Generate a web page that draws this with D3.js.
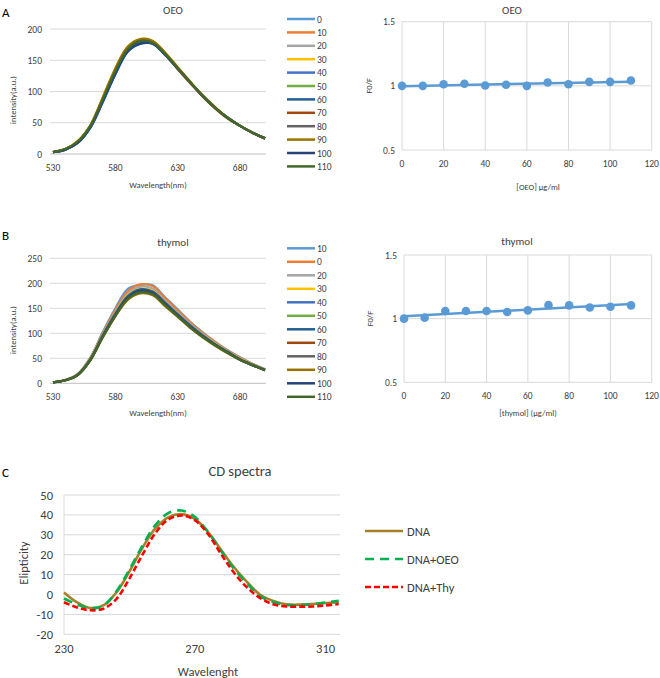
<!DOCTYPE html>
<html>
<head>
<meta charset="utf-8">
<script src="https://cdn.jsdelivr.net/npm/d3@7"></script>
<style>
  html, body { margin: 0; padding: 0; background: #fff; }
  svg { display: block; font-family: Carlito, Lato, "Open Sans", sans-serif; }
</style>
</head>
<body>
<svg id="chart" width="660" height="678"></svg>
<script>
// ---------------- DATA ----------------
const wavelengths = [530,540,550,560,570,580,590,600,610,620,630,640,650,660,670,680,690,700];

// Panel A: OEO fluorescence spectra (legend order)
const oeoLabels = ["0","10","20","30","40","50","60","70","80","90","100","110"];
const oeoSpectra = [
  [3,7,18,42,83,127,164,177,177,159,137,115,93,74,58,45,34,25],
  [3,8,20,46,90,135,170,183,180,161,136,113,92,73,57,45,34,25],
  [3,8,20,45,89,134,169,182,179,160,137,115,93,74,58,45,34,25],
  [3,8,21,46,91,137,172,184,181,162,139,116,94,75,58,45,34,25],
  [3,7,18,42,84,128,164,177,177,159,137,115,93,74,58,45,34,25],
  [3,8,20,45,88,133,168,181,178,160,137,115,93,74,58,45,34,25],
  [3,7,18,43,84,128,164,176,176,158,136,114,93,74,58,45,34,25],
  [3,8,20,45,88,134,169,182,179,160,136,114,92,73,57,45,34,25],
  [3,8,20,45,88,133,168,181,178,160,137,115,93,74,58,45,34,25],
  [3,8,21,46,91,137,172,184,181,162,139,116,94,75,58,45,34,25],
  [3,7,18,43,85,129,165,177,177,159,137,115,93,74,58,45,34,25],
  [3,8,20,45,88,133,168,181,178,160,137,115,93,74,58,45,34,25]
];

// Panel B: thymol fluorescence spectra (legend order)
const thyLabels = ["10","0","20","30","40","50","60","70","80","90","100","110"];
const thySpectra = [
  [2,7,19,52,103,150,189,197,196,172,148,123,102,83,66,52,39,28],
  [2,7,19,51,101,147,184,198,194,170,146,122,101,83,66,51,39,28],
  [2,6,18,50,99,143,179,193,189,165,142,119,99,81,65,50,38,28],
  [2,6,18,49,97,140,176,189,185,162,139,116,97,79,63,49,37,27],
  [2,6,18,48,96,139,174,187,183,161,138,115,96,78,63,48,37,27],
  [2,6,17,48,95,138,172,186,182,159,137,114,95,78,62,48,37,27],
  [2,6,18,48,96,139,174,188,183,161,138,116,96,78,63,48,37,27],
  [2,6,17,47,94,136,171,184,180,158,135,113,94,77,62,47,36,26],
  [2,6,17,47,93,135,169,183,178,156,134,112,93,76,61,47,36,26],
  [2,6,17,46,92,134,167,180,176,154,133,111,92,75,60,47,36,26],
  [2,6,17,47,94,136,171,185,180,158,135,113,94,77,62,47,36,26],
  [2,6,17,47,93,135,169,182,178,156,134,112,93,76,61,47,36,26]
];

const seriesColors = ["#5B9BD5","#ED7D31","#A5A5A5","#FFC000","#4472C4","#70AD47",
                      "#255E91","#9E480E","#636363","#997300","#264478","#43682B"];

// Stern-Volmer style plots
const concentrations = [0,10,20,30,40,50,60,70,80,90,100,110];
const oeoF0F = [1.000,1.000,1.013,1.016,1.003,1.008,1.000,1.026,1.013,1.031,1.031,1.042];
const thyF0F = [1.000,1.008,1.060,1.060,1.060,1.052,1.065,1.106,1.104,1.088,1.093,1.104];

// Panel C: CD spectra
const cdWavelengths = [230,234,238,242,246,250,254,258,262,266,270,274,278,282,286,290,294,298,302,306,310,314];
const cdDNA    = [1.0,-4.0,-6.8,-5.5,1.0,11.6,23.5,33.3,38.9,40.4,38.0,31.5,22.5,13.7,6.2,-0.1,-3.2,-4.9,-5.1,-4.8,-4.3,-3.9];
const cdDNAOEO = [-2.0,-5.0,-6.8,-5.8,1.5,12.5,24.5,35.0,41.0,42.2,39.0,31.5,22.0,12.8,5.5,-0.8,-3.8,-5.3,-5.3,-4.8,-4.0,-3.2];
const cdDNAThy = [-3.9,-6.5,-7.9,-7.2,-2.3,8.0,20.0,31.0,37.8,39.7,37.4,30.5,20.4,10.9,3.5,-1.8,-4.9,-6.0,-6.1,-6.0,-5.5,-4.8];
const cdLabels = ["DNA","DNA+OEO","DNA+Thy"];
const cdColors = ["#A5802A","#00B050","#FF0000"];

// ---------------- DRAWING ----------------
const svg = d3.select("#chart");
const GRID = "#D9D9D9";
const TXT = "#404040";

function text(x, y, s, size, anchor, opts = {}) {
  const t = svg.append("text").attr("x", x).attr("y", y).text(s)
    .attr("font-size", size).attr("fill", opts.fill || TXT)
    .attr("text-anchor", anchor || "middle");
  if (opts.rotate) t.attr("transform", `rotate(-90,${x},${y})`);
  if (opts.weight) t.attr("font-weight", opts.weight);
  return t;
}

// Panel letters
text(2, 17, "A", 13, "start", {fill: "#000"});
text(2, 240, "B", 13, "start", {fill: "#000"});
text(2, 477, "C", 13, "start", {fill: "#000"});

function spectrumPanel(cfg) {
  const x = d3.scaleLinear().domain([530, 700]).range([53, 265]);
  const y = d3.scaleLinear().domain([0, cfg.ymax]).range([cfg.y0, cfg.ytop]);
  const g = svg.append("g");
  const yTicks = d3.range(0, cfg.ymax + 1, 50);
  // gridlines
  g.selectAll(".gl").data(yTicks).join("line")
    .attr("x1", 50).attr("x2", 266)
    .attr("y1", d => y(d)).attr("y2", d => y(d))
    .attr("stroke", d => d === 0 ? "#BFBFBF" : GRID).attr("stroke-width", 1);
  // y tick labels
  g.selectAll(".yl").data(yTicks).join("text")
    .attr("x", 42).attr("y", d => y(d) + 3.5).text(d => d)
    .attr("font-size", 9.5).attr("fill", TXT).attr("text-anchor", "end");
  // x tick labels
  g.selectAll(".xl").data([530, 580, 630, 680]).join("text")
    .attr("x", d => x(d)).attr("y", cfg.y0 + 17).text(d => d)
    .attr("font-size", 9.5).attr("fill", TXT).attr("text-anchor", "middle");
  // lines
  const line = d3.line().x((d, i) => x(wavelengths[i])).y(d => y(d)).curve(d3.curveCatmullRom);
  cfg.spectra.forEach((s, i) => {
    g.append("path").attr("d", line(s)).attr("fill", "none")
      .attr("stroke", seriesColors[i]).attr("stroke-width", 2.2).attr("stroke-linejoin", "round");
  });
  // legend
  cfg.labels.forEach((lab, i) => {
    const ly = cfg.legY + i * cfg.legStep;
    g.append("line").attr("x1", 287).attr("x2", 315).attr("y1", ly).attr("y2", ly)
      .attr("stroke", seriesColors[i]).attr("stroke-width", 2.5);
    g.append("text").attr("x", 317).attr("y", ly + 3.5).text(lab)
      .attr("font-size", 9.5).attr("fill", TXT);
  });
  text(173, cfg.titleY, cfg.title, 11, "middle");
  text(158, cfg.xTitleY, "Wavelength(nm)", 8.5, "middle");
  text(16, cfg.yTitleC, "intensity(a.u.)", 8.5, "middle", {rotate: true});
}

spectrumPanel({spectra: oeoSpectra, labels: oeoLabels, ymax: 200, y0: 154, ytop: 29,
  legY: 19, legStep: 13.4, title: "OEO", titleY: 14, xTitleY: 188, yTitleC: 100});
spectrumPanel({spectra: thySpectra, labels: thyLabels, ymax: 250, y0: 383.3, ytop: 258.3,
  legY: 248.3, legStep: 13.5, title: "thymol", titleY: 246, xTitleY: 416, yTitleC: 330});

function svPanel(cfg) {
  const x = d3.scaleLinear().domain([0, 120]).range([cfg.x0, 651.7]);
  const y = d3.scaleLinear().domain([0.5, 1.5]).range([cfg.y0, cfg.ytop]);
  const g = svg.append("g");
  const xt = d3.range(0, 121, 20), yt = [0.5, 1, 1.5];
  g.selectAll(".vg").data(xt).join("line")
    .attr("x1", d => x(d)).attr("x2", d => x(d)).attr("y1", y(0.5)).attr("y2", y(1.5))
    .attr("stroke", GRID);
  g.selectAll(".hg").data(yt).join("line")
    .attr("x1", x(0)).attr("x2", x(120)).attr("y1", d => y(d)).attr("y2", d => y(d))
    .attr("stroke", GRID);
  g.selectAll(".yl").data(yt).join("text")
    .attr("x", cfg.x0 - 7).attr("y", d => y(d) + 3.5).text(d => d)
    .attr("font-size", 9.5).attr("fill", TXT).attr("text-anchor", "end");
  g.selectAll(".xl").data(xt).join("text")
    .attr("x", d => x(d)).attr("y", cfg.y0 + 17).text(d => d)
    .attr("font-size", 9.5).attr("fill", TXT).attr("text-anchor", "middle");
  // linear trendline (least squares of the data)
  const mx = d3.mean(concentrations), my = d3.mean(cfg.vals);
  const sxy = d3.sum(concentrations, (c, i) => (c - mx) * (cfg.vals[i] - my));
  const sxx = d3.sum(concentrations, c => (c - mx) * (c - mx));
  const b = sxy / sxx, a = my - b * mx;
  const xs = [0, 110];
  g.append("path").attr("d", d3.line().x(d => x(d)).y(d => y(a + b * d))(xs))
    .attr("stroke", "#5B9BD5").attr("stroke-width", 2.5).attr("fill", "none");
  g.selectAll(".pt").data(cfg.vals).join("circle")
    .attr("cx", (d, i) => x(concentrations[i])).attr("cy", d => y(d)).attr("r", 4.3)
    .attr("fill", "#5B9BD5");
  text(cfg.titleX, cfg.titleY, cfg.title, 11, "middle");
  text(cfg.xTitleX, cfg.xTitleY, cfg.xTitle, 8.5, "middle");
  text(cfg.yTitleX, (cfg.y0 + cfg.ytop) / 2, "F0/F", 8.5, "middle", {rotate: true});
}

svPanel({vals: oeoF0F, x0: 402, y0: 150, ytop: 21.7, title: "OEO", titleX: 512, titleY: 14,
  xTitle: "[OEO] µg/ml", xTitleX: 538, xTitleY: 190, yTitleX: 372});
svPanel({vals: thyF0F, x0: 404, y0: 382.3, ytop: 255, title: "thymol", titleX: 517, titleY: 245,
  xTitle: "[thymol] (µg/ml)", xTitleX: 528, xTitleY: 416, yTitleX: 373});

// Panel C
(function cdPanel() {
  const x = d3.scaleLinear().domain([230, 314.4]).range([64, 340]);
  const y = d3.scaleLinear().domain([-20, 50]).range([634.3, 495]);
  const g = svg.append("g");
  const yt = d3.range(-20, 51, 10);
  g.selectAll(".hg").data(yt).join("line")
    .attr("x1", 64).attr("x2", 340).attr("y1", d => y(d)).attr("y2", d => y(d))
    .attr("stroke", GRID);
  g.append("line").attr("x1", 64).attr("x2", 64).attr("y1", y(50)).attr("y2", y(-20)).attr("stroke", GRID);
  g.selectAll(".yl").data(yt).join("text")
    .attr("x", 53).attr("y", d => y(d) + 4.5).text(d => d)
    .attr("font-size", 12.5).attr("fill", TXT).attr("text-anchor", "end");
  g.selectAll(".xl").data([230, 270, 310]).join("text")
    .attr("x", d => x(d)).attr("y", 653).text(d => d)
    .attr("font-size", 12.5).attr("fill", TXT).attr("text-anchor", "middle");
  const series = [cdDNA, cdDNAOEO, cdDNAThy];
  const dashes = [null, "9,6", "6,3"];
  const line = d3.line().x((d, i) => x(cdWavelengths[i])).y(d => y(d)).curve(d3.curveCatmullRom);
  series.forEach((s, i) => {
    g.append("path").attr("d", line(s)).attr("fill", "none")
      .attr("stroke", cdColors[i]).attr("stroke-width", 2.6)
      .attr("stroke-dasharray", dashes[i]);
  });
  const legY = [531, 559, 587];
  cdLabels.forEach((lab, i) => {
    g.append("line").attr("x1", 365).attr("x2", 403).attr("y1", legY[i]).attr("y2", legY[i])
      .attr("stroke", cdColors[i]).attr("stroke-width", 2.6).attr("stroke-dasharray", dashes[i]);
    g.append("text").attr("x", 407).attr("y", legY[i] + 4.5).text(lab)
      .attr("font-size", 12.5).attr("fill", TXT);
  });
  text(240, 476, "CD spectra", 14.5, "middle");
  text(208, 676, "Wavelenght", 12.5, "middle");
  text(28, 563, "Elipticity", 12.5, "middle", {rotate: true});
})();
</script>
</body>
</html>
